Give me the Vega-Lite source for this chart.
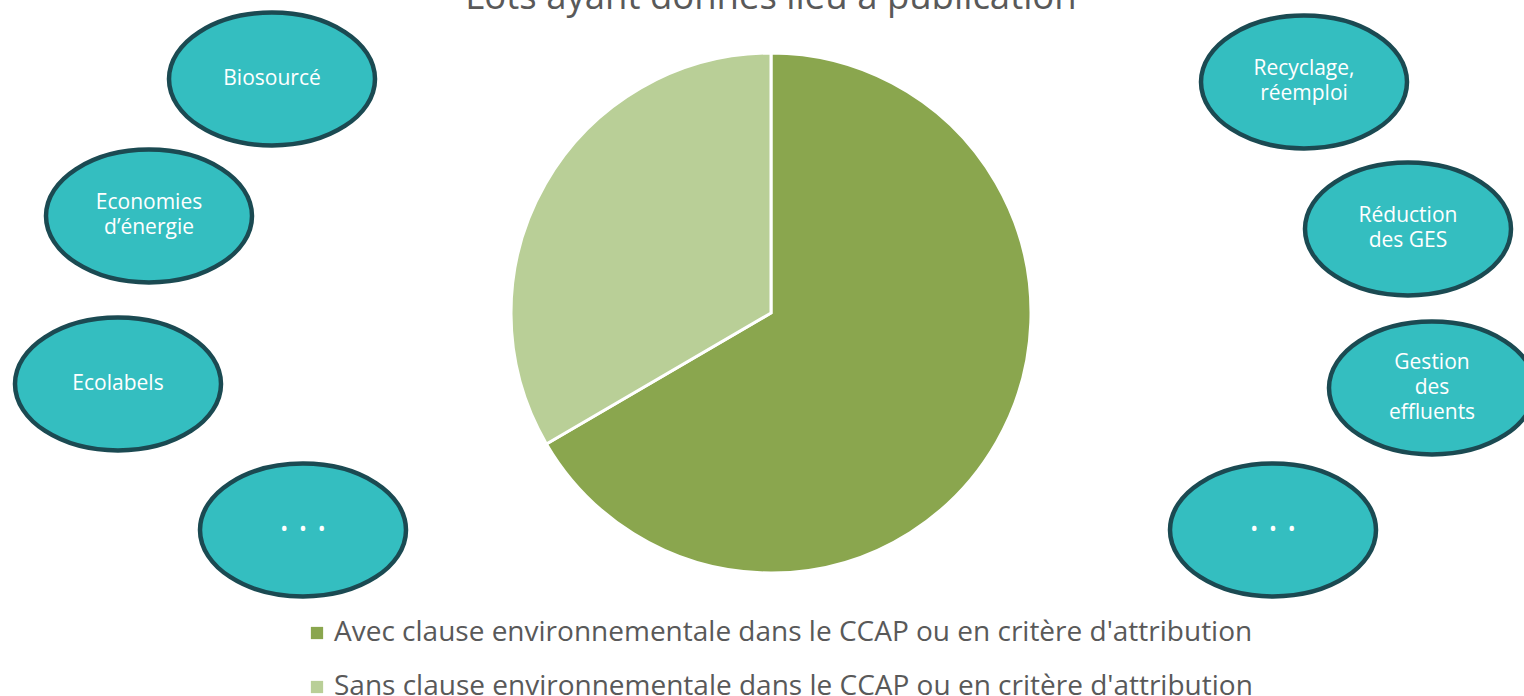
{
  "$schema": "https://vega.github.io/schema/vega-lite/v6.json",
  "autosize": "none",
  "padding": {"left": 0, "top": 0, "right": 0, "bottom": 70},
  "width": 1542,
  "height": 626,
  "background": "white",
  "config": {"view": {"stroke": null}},
  "title": {
    "text": "Lots ayant donnés lieu à publication",
    "anchor": "middle",
    "frame": "group",
    "font": "Open Sans",
    "fontSize": 36.5,
    "fontWeight": "normal",
    "color": "#595959",
    "baseline": "alphabetic",
    "offset": -45
  },
  "layer": [
    {
      "data": {
        "values": [
          {"categorie": "Avec clause environnementale dans le CCAP ou en critère d'attribution", "part": 66.6},
          {"categorie": "Sans clause environnementale dans le CCAP ou en critère d'attribution", "part": 33.4}
        ]
      },
      "mark": {"type": "arc", "outerRadius": 260, "stroke": "white", "strokeWidth": 3},
      "encoding": {
        "theta": {"field": "part", "type": "quantitative", "stack": true},
        "order": {"field": "categorie", "type": "nominal", "sort": "ascending"},
        "color": {
          "field": "categorie",
          "type": "nominal",
          "scale": {
            "domain": ["Avec clause environnementale dans le CCAP ou en critère d'attribution", "Sans clause environnementale dans le CCAP ou en critère d'attribution"],
            "range": ["#8AA64E", "#B9CF97"]
          },
          "legend": {
            "title": null,
            "orient": "none",
            "legendX": 303,
            "legendY": 619,
            "direction": "vertical",
            "symbolType": "square",
            "symbolSize": 150,
            "symbolStrokeWidth": 0,
            "labelFont": "Open Sans",
            "labelFontSize": 28,
            "labelColor": "#595959",
            "labelLimit": 0,
            "labelOffset": 3,
            "rowPadding": 26
          }
        }
      }
    },
    {
      "data": {
        "values": [
          {"theme": "Biosourcé", "cx": 272, "cy": 79, "ty": 79},
          {"theme": "Economies\nd’énergie", "cx": 149, "cy": 216, "ty": 203},
          {"theme": "Ecolabels", "cx": 118, "cy": 384, "ty": 384},
          {"theme": "•\u00a0\u00a0•\u00a0\u00a0•", "cx": 303, "cy": 530, "ty": 530},
          {"theme": "Recyclage,\nréemploi", "cx": 1304, "cy": 82, "ty": 69},
          {"theme": "Réduction\ndes GES", "cx": 1408, "cy": 229, "ty": 216},
          {"theme": "Gestion\ndes\neffluents", "cx": 1432, "cy": 388, "ty": 363},
          {"theme": "•\u00a0\u00a0•\u00a0\u00a0•", "cx": 1273, "cy": 530, "ty": 530}
        ]
      },
      "layer": [
        {
          "mark": {
            "type": "point",
            "shape": "M-1,0A1,0.645 0 1,0 1,0A1,0.645 0 1,0 -1,0Z",
            "size": 42436,
            "filled": true,
            "fill": "#34BEC0",
            "fillOpacity": 1,
            "stroke": "#1B4A52",
            "strokeWidth": 4.5,
            "opacity": 1
          },
          "encoding": {
            "x": {"field": "cx", "type": "quantitative", "scale": {"domain": [0, 1542], "nice": false, "zero": false}, "axis": null},
            "y": {"field": "cy", "type": "quantitative", "scale": {"domain": [0, 626], "nice": false, "zero": false, "reverse": true}, "axis": null}
          }
        },
        {
          "mark": {
            "type": "text",
            "font": "Open Sans",
            "fontSize": 21,
            "color": "white",
            "align": "center",
            "baseline": "middle",
            "lineBreak": "\n",
            "lineHeight": 25
          },
          "encoding": {
            "x": {"field": "cx", "type": "quantitative"},
            "y": {"field": "ty", "type": "quantitative"},
            "text": {"field": "theme", "type": "nominal"}
          }
        }
      ]
    }
  ]
}
